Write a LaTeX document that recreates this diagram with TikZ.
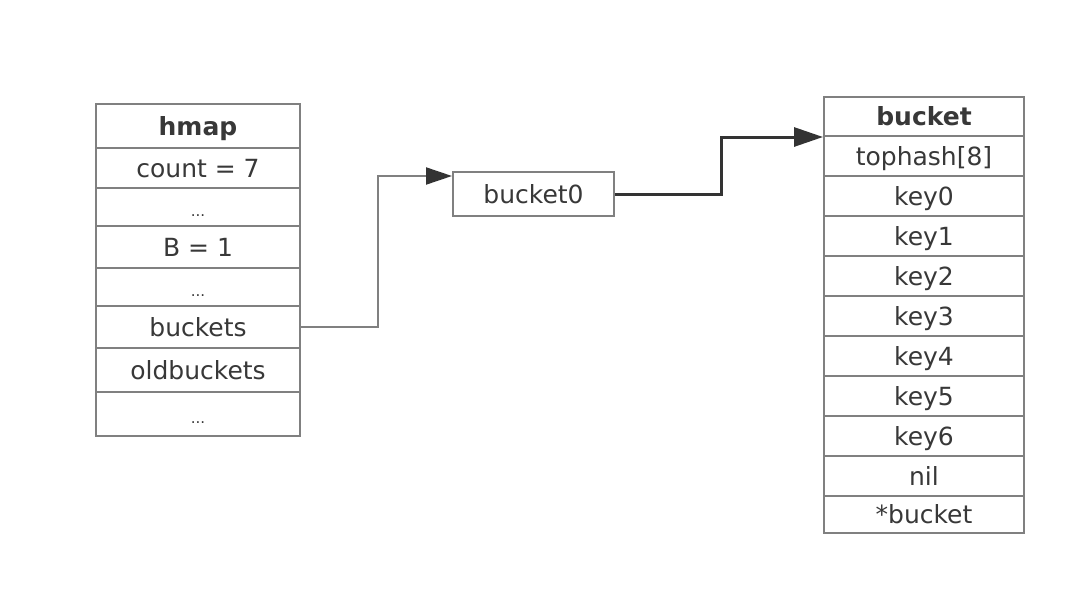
\documentclass[tikz,border=0pt]{standalone}
\usepackage{fontspec}
\setmainfont{DejaVu Sans}
\usetikzlibrary{arrows.meta}
\definecolor{linegray}{HTML}{808080}
\definecolor{txt}{HTML}{383838}
\definecolor{dark}{HTML}{333333}
\begin{document}
\begin{tikzpicture}[x=1pt,y=-1pt,
  cell/.style={draw=linegray, line width=2pt, rectangle, inner sep=0pt,
    text height=18pt, text depth=0pt, text=txt,
    font=\fontsize{25pt}{30pt}\selectfont, anchor=north},
  hcell/.style={cell, minimum width=204pt},
  bcell/.style={cell, minimum width=200pt},
  dots/.style={font=\fontsize{15pt}{18pt}\selectfont},
  head/.style={font=\fontsize{25pt}{30pt}\selectfont\bfseries},
  lightarrow/.style={draw=linegray, line width=2pt,
    -{Triangle[length=26pt,width=17pt,color=dark]}},
  darkarrow/.style={draw=dark, line width=3pt,
    -{Triangle[length=29pt,width=19pt]}},
]
\useasboundingbox (0,0) rectangle (1089,597);
\fill[white] (0,0) rectangle (1089,597);

% hmap table
\node[hcell, head, minimum height=44pt] (h0) at (198,103) {hmap};
\node[hcell, minimum height=40pt] (h1) at (198,147) {count = 7};
\node[hcell, dots, minimum height=38pt] (h2) at (198,187) {...};
\node[hcell, minimum height=42pt] (h3) at (198,225) {B = 1};
\node[hcell, dots, minimum height=38pt] (h4) at (198,267) {...};
\node[hcell, minimum height=42pt] (h5) at (198,305) {buckets};
\node[hcell, minimum height=44pt] (h6) at (198,347) {oldbuckets};
\node[hcell, dots, minimum height=44pt] (h7) at (198,391) {...};

% bucket0
\node[cell, minimum width=161pt, minimum height=44pt] (b0) at (533.5,171) {bucket0};

% bucket table
\node[bcell, head, minimum height=39pt] (k0) at (924,96) {bucket};
\node[bcell, minimum height=40pt] (k1) at (924,135) {tophash[8]};
\node[bcell, minimum height=40pt] (k2) at (924,175) {key0};
\node[bcell, minimum height=40pt] (k3) at (924,215) {key1};
\node[bcell, minimum height=40pt] (k4) at (924,255) {key2};
\node[bcell, minimum height=40pt] (k5) at (924,295) {key3};
\node[bcell, minimum height=40pt] (k6) at (924,335) {key4};
\node[bcell, minimum height=40pt] (k7) at (924,375) {key5};
\node[bcell, minimum height=40pt] (k8) at (924,415) {key6};
\node[bcell, minimum height=40pt] (k9) at (924,455) {nil};
\node[bcell, minimum height=37pt] (k10) at (924,495) {*bucket};

% connectors
\draw[lightarrow] (h5.east) -- ++(77,0) |- ([yshift=-5pt]b0.north west);
\draw[darkarrow] (b0.east) -- ++(106,0) |- (k0.south west);
\end{tikzpicture}
\end{document}
